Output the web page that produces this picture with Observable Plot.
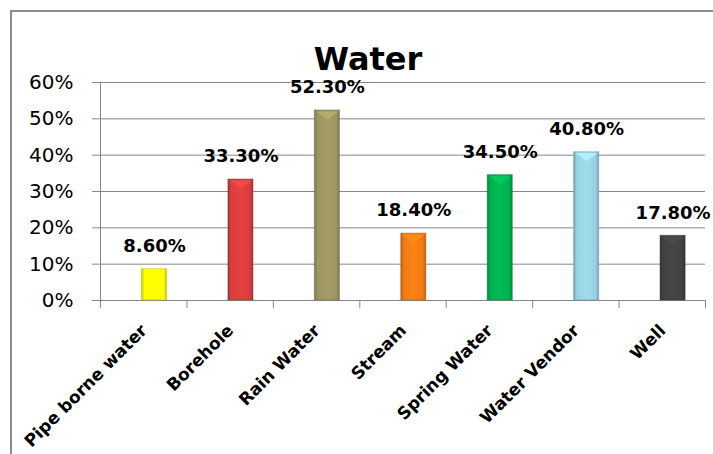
<!DOCTYPE html>
<html>
<head>
<meta charset="utf-8">
<script src="https://cdn.jsdelivr.net/npm/d3@7"></script>
<script src="https://cdn.jsdelivr.net/npm/@observablehq/plot@0.6"></script>
<style>
  html, body { margin: 0; padding: 0; background: #fff; }
  #wrap { position: relative; width: 713px; height: 454px; overflow: hidden; }
  #frame { position: absolute; left: 10px; top: 10px; width: 740px; height: 480px;
           border-left: 2px solid #8a8a8a; border-top: 2px solid #8a8a8a; }
  #chart { position: absolute; left: 0; top: 0; }
</style>
</head>
<body>
<div id="wrap"><div id="frame"></div><div id="chart"></div></div>
<script>
// Main source of drinking water (share of households)
const categories = ["Pipe borne water", "Borehole", "Rain Water", "Stream", "Spring Water", "Water Vendor", "Well"];
const shares = [8.6, 33.3, 52.3, 18.4, 34.5, 40.8, 17.8];
const barColors = ["#ffff00", "#d83e3e", "#9c9560", "#f07a14", "#00b050", "#97d1e0", "#414141"];
const yTicks = [0, 10, 20, 30, 40, 50, 60];
const chartTitle = "Water";

const grey = "#868686";
const font = "DejaVu Sans";

// bar occupies this fraction of each category slot
const barStart = 0.48, barEnd = 0.77, barMid = (barStart + barEnd) / 2;

// downward chevron drawn at the top of each bar (bevel highlight)
const bevel = {
  draw(context, l, r) {
    context.moveTo(-r, 0);
    context.lineTo(r, 0);
    context.lineTo(0, l);
    context.closePath();
  }
};

const chart = Plot.plot({
  width: 713,
  height: 454,
  marginTop: 82,
  marginBottom: 154,
  marginLeft: 100,
  marginRight: 8,
  style: { fontFamily: font, background: "transparent", overflow: "visible" },
  x: { type: "linear", domain: [0, categories.length] },
  y: { domain: [0, 60] },
  color: { type: "identity" },
  marks: [
    Plot.gridY(yTicks, { stroke: grey, strokeOpacity: 1 }),
    Plot.ruleX([0], { stroke: grey }),
    Plot.ruleY([0], { stroke: grey }),
    Plot.axisY(yTicks, {
      tickSize: 8, tickPadding: 19, stroke: grey, fill: "#000",
      tickFormat: d => d + "%", fontSize: 20
    }),
    Plot.axisX(d3.range(categories.length + 1), {
      tickSize: 8, stroke: grey, tickFormat: () => ""
    }),
    Plot.rectY(shares, {
      x1: (d, i) => i + barStart,
      x2: (d, i) => i + barEnd,
      y1: 0,
      y2: d => d,
      fill: (d, i) => `url(#bar-grad-${i})`,
      stroke: (d, i) => d3.color(barColors[i]).darker(0.9).formatHex(),
      strokeOpacity: 0.5,
      strokeWidth: 1
    }),
    Plot.vector(shares, {
      x: (d, i) => i + barMid,
      y: d => d,
      anchor: "start",
      length: 8,
      r: 11,
      shape: bevel,
      dy: 1,
      stroke: "none",
      fill: (d, i) => d3.color(barColors[i]).brighter(0.45).formatHex(),
      fillOpacity: 0.85
    }),
    Plot.text(shares, {
      x: (d, i) => i + barMid,
      y: d => d,
      text: d => d.toFixed(2) + "%",
      dy: -23,
      fontSize: 18,
      fontWeight: "bold",
      fill: "#000"
    }),
    Plot.text(categories, {
      x: (d, i) => i + 0.55,
      frameAnchor: "bottom",
      rotate: -45,
      textAnchor: "end",
      dy: 31,
      fontSize: 17,
      fontWeight: "bold",
      fill: "#000"
    }),
    Plot.text([chartTitle], {
      frameAnchor: "top",
      dx: -35,
      dy: -13,
      lineAnchor: "bottom",
      fontSize: 32,
      fontWeight: "bold",
      fill: "#000"
    })
  ]
});

// bevelled bar fills: darker edges, lighter core
const defs = d3.select(chart).insert("defs", ":first-child");
barColors.forEach((c, i) => {
  const base = d3.color(c);
  const g = defs.append("linearGradient")
    .attr("id", `bar-grad-${i}`)
    .attr("x1", 0).attr("x2", 1).attr("y1", 0).attr("y2", 0);
  [
    [0, base.darker(0.7)],
    [0.12, base],
    [0.5, base.brighter(0.15)],
    [0.88, base],
    [1, base.darker(0.7)]
  ].forEach(([o, col]) => g.append("stop").attr("offset", o).attr("stop-color", col.formatHex()));
});

document.getElementById("chart").appendChild(chart);
</script>
</body>
</html>
